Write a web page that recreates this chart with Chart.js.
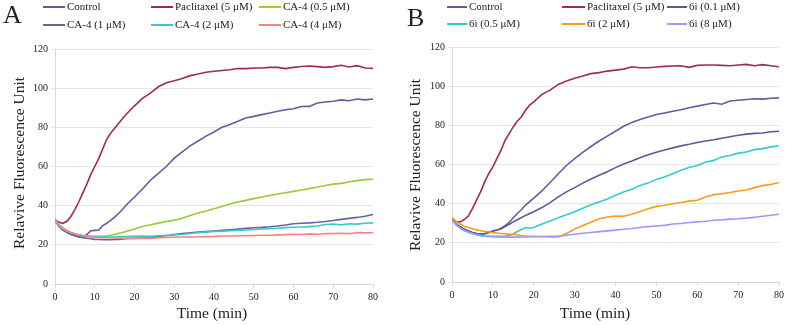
<!DOCTYPE html>
<html>
<head>
  <meta charset="UTF-8">
  <script src="https://cdn.jsdelivr.net/npm/chart.js@4.4.1/dist/chart.umd.min.js"></script>
  <style>
    body { margin: 0; background: #fff; }
    #wrap { position: relative; width: 787px; height: 325px; font-family: "Liberation Serif", "Times New Roman", serif; color: #222; }
    canvas { position: absolute; top: 0; }
    .txt { position: absolute; white-space: nowrap; line-height: 1; }
    .letter { font-size: 26px; }
    .atitle { font-size: 15.5px; }
    .ytitle { transform: translate(-50%, -50%) rotate(-90deg); }
    .xtitle { transform: translate(-50%, -50%); }
    .leg { position: absolute; font-size: 11px; line-height: 1; white-space: nowrap; }
    .leg i { position: absolute; top: -1px; height: 2px; }
    .leg span { position: absolute; top: -6px; }
  </style>
</head>
<body>
<div id="wrap">
  <canvas id="chartA" width="393" height="325" style="left:0"></canvas>
  <canvas id="chartB" width="387" height="325" style="left:400px"></canvas>
  <div class="txt letter" style="left:3px;top:2px">A</div>
  <div class="txt letter" style="left:407px;top:5px">B</div>
  <div class="txt atitle ytitle" style="left:19px;top:163px">Relavive Fluorescence Unit</div>
  <div class="txt atitle xtitle" style="left:212px;top:313px">Time (min)</div>
  <div class="txt atitle ytitle" style="left:415px;top:165px">Relavive Fluorescence Unit</div>
  <div class="txt atitle xtitle" style="left:595px;top:313px">Time (min)</div>
  <div id="legA"></div>
  <div id="legB"></div>
</div>
<script>
// time points (min)
const times = [0,1,2,3,4,5,6,7,8,9,10,11,12,13,14,15,16,17,18,19,20,22,24,26,28,30,32,34,36,38,40,42,44,46,48,50,52,54,56,58,60,62,64,66,68,70,72,74,76,78,80];

// panel A
const namesA = ['Control', 'Paclitaxel (5 μM)', 'CA-4 (0.5 μM)', 'CA-4 (1 μM)', 'CA-4 (2 μM)', 'CA-4 (4 μM)'];
const colorsA = ['#5c5ea3', '#9e2a5e', '#99cc33', '#6264a8', '#33cccc', '#ff8080'];
const controlA = [32.9,29.4,27.7,26.6,25.5,24.7,24,24.3,25.2,27.2,27.4,27.6,29.8,31,32.5,34.2,36,38.2,40.5,42.5,44.4, 48.5,53,56.5,60,64.3,67.5,70.5,73,75.5,77.6, 80,81.4,83.1,84.8,85.6,86.5,87.3,88.2,89,89.5, 90.6,90.7,92.4,92.9,93.3,94,93.6,94.5,94,94.5];
const paclitaxelA = [32.9,31.5,31,32,34.5,38,42,46.5,51,56,60,64,69,73.9,77,79.5,82,84.5,86.8,89,91, 94.8,97.5,100.7,102.8,103.8,104.9,106.4,107.2,108.1,108.6, 109,109.4,110,110,110.3,110.3,110.6,110.6,110,110.6, 111.1,111.3,111,110.6,111,111.7,110.8,111.5,110.3,110.1];
const ca4_05 = [32.9,30.3,28.6,27.3,26.3,25.6,25.1,24.7,24.5,24.4,24.3,24.3,24.4,24.6,24.9,25.3,25.8,26.3,26.9,27.5,28.1, 29.4,30.3,31.1,31.9,32.6,33.6,35,36.3,37.3,38.4, 39.6,40.8,41.9,42.7,43.6,44.4,45.2,46,46.6,47.3, 48,48.7,49.5,50.3,51,51.4,52.1,52.8,53.3,53.5];
const ca4_1 = [32.5,29.5,27.5,26.3,25.3,24.6,24,23.7,23.4,23.1,22.8,22.7,22.6,22.6,22.6,22.7,22.8,23,23.1,23.2,23.3, 23.5,23.7,24.2,24.8,25.3,25.7,26.1,26.5,26.8,27.1, 27.4,27.7,28,28.4,28.7,28.9,29.2,29.6,30.1,30.8, 31,31.2,31.5,31.9,32.4,33,33.5,34,34.6,35.5];
const ca4_2 = [32,29.8,28.2,27,26.2,25.5,25,24.7,24.5,24.3,24.2,24.1,24.1,24,24,24,24.1,24.1,24.2,24.3,24.4, 24.5,24.4,24.6,24.8,25,25.3,25.8,26.2,26.5,26.8, 27,27.2,27.4,27.6,27.8,28.1,28.3,28.5,28.8,29, 29.1,29.3,29.6,30.4,30.6,30.2,30.8,30.6,31,31.2];
const ca4_4 = [32.5,30,28.5,27.2,26.3,25.6,25,24.6,24.3,24.1,23.9,23.8,23.7,23.6,23.6,23.5,23.5,23.4,23.4,23.4,23.3, 23.4,23.3,23.6,23.8,23.9,24,24,24.1,24.2,24.3, 24.5,24.5,24.6,24.7,24.8,24.9,24.9,25.1,25.2,25.4, 25.3,25.6,25.4,25.7,25.8,25.9,25.7,26.3,26.1,26.2];

// panel B
const namesB = ['Control', 'Paclitaxel (5 μM)', '6i (0.1 μM)', '6i (0.5 μM)', '6i (2 μM)', '6i (8 μM)'];
const colorsB = ['#5c5ea3', '#9e2a5e', '#5a5a96', '#33cccc', '#ff9a1a', '#9999ff'];
const controlB = [32,29.5,28,27,26,25.3,24.7,24.4,24.6,25.2,26,26.5,27.5,28.8,30.5,32.8,35,37,39.3,41,42.8, 46.5,50.8,55.3,59.5,63,66.2,69.2,72,74.5,77, 79.5,81.5,83,84.3,85.5,86.3,87.2,88,89,89.8, 90.6,91.4,90.8,92.4,92.8,93.2,93.6,93.4,93.8,94];
const paclitaxelB = [32.4,30.8,30.7,31.9,33.7,37.5,41.8,46,51.1,55.4,58.8,63.1,67.3,72.4,75.8,79.3,82.2,84.4,87.8,90.3,92, 95.8,98,100.9,102.6,104,105.2,106.4,106.9,107.7,108.2, 108.7,109.9,109.4,109.4,109.8,110.1,110.3,110.4,109.6,110.6, 110.8,110.8,110.6,110.4,110.8,111.1,110.4,111,110.4,109.9];
const i6_01 = [32,29.8,28.2,27,26,25.3,24.8,24.6,24.8,25.4,26,26.5,27.2,28.3,29.5,30.7,31.8,32.9,34,35,35.9, 38,40.5,43.5,46,48.2,50.5,52.6,54.5,56.3,58.4, 60.3,61.8,63.5,65,66.3,67.4,68.5,69.5,70.3,71.2, 72,72.6,73.4,74.2,74.9,75.5,75.9,76.1,76.7,77];
const i6_05 = [32.3,29.5,27.5,26.3,25.5,24.8,24.2,23.8,23.6,23.5,23.4,23.4,23.4,23.5,23.8,24.5,25.8,26.8,27.8,27.6,27.8, 29.6,31.2,32.8,34.3,35.9,37.7,39.4,40.9,42.4,44.3, 45.9,47.3,49.3,50.5,52.4,53.6,55.3,57.1,58.5,59.5, 61.1,62.1,63.8,64.6,65.8,66.4,67.6,68.1,69,69.6];
const i6_2 = [33,31,29.6,28.5,27.8,27.2,26.6,26.2,25.8,25.5,25.2,25,24.8,24.6,24.3,24.4,24,23.7,23.5,23.4,23.3, 23.2,23,23,24.8,27,28.8,30.5,32.3,33.2,33.7, 33.6,34.6,36,37.4,38.6,39.2,40,40.6,41.3,41.7, 43.4,44.6,45.1,45.7,46.5,47,48.2,49.2,49.8,50.8];
const i6_8 = [31.5,29,27.5,26.3,25.4,24.7,24.1,23.7,23.4,23.2,23.1,23,22.9,22.9,22.9,22.9,22.9,23,23,23.1,23.1, 23.2,23.3,23.4,23.9,24.4,24.9,25.3,25.7,26.1,26.5, 26.9,27.3,27.8,28.3,28.6,28.9,29.6,29.9,30.4,30.7, 31,31.5,31.7,32.1,32.3,32.6,33.1,33.6,34.1,34.6];

const seriesA = [controlA, paclitaxelA, ca4_05, ca4_1, ca4_2, ca4_4];
const seriesB = [controlB, paclitaxelB, i6_01, i6_05, i6_2, i6_8];

function pts(vals) {
  return times.map((t, i) => ({ x: t, y: vals[i] }));
}

function makeChart(id, names, colors, series, pad, yW, xH) {
  const tickFont = { family: 'Liberation Serif', size: 10 };
  new Chart(document.getElementById(id), {
    type: 'line',
    data: {
      datasets: series.map((s, i) => ({
        label: names[i],
        data: pts(s),
        borderColor: colors[i],
        borderWidth: 1.6,
        pointRadius: 0,
        tension: 0,
        fill: false
      })).reverse()
    },
    options: {
      responsive: false,
      animation: false,
      devicePixelRatio: 1,
      layout: { padding: pad },
      plugins: { legend: { display: false }, tooltip: { enabled: false } },
      scales: {
        x: {
          type: 'linear', min: 0, max: 80,
          ticks: { stepSize: 10, font: tickFont, color: '#222', padding: 3, maxRotation: 0 },
          grid: { drawOnChartArea: false, tickLength: 4, color: '#d9d9d9' },
          border: { color: '#d9d9d9' },
          afterFit: s => { s.height = xH; }
        },
        y: {
          min: 0, max: 120,
          ticks: { stepSize: 20, font: tickFont, color: '#222', padding: 3 },
          grid: { tickLength: 4, color: '#e6e6e6' },
          border: { color: '#d9d9d9' },
          afterFit: s => { s.width = yW; }
        }
      }
    }
  });
}

makeChart('chartA', namesA, colorsA, seriesA, { left: 0, top: 49, right: 20, bottom: 1 }, 55, 40);
makeChart('chartB', namesB, colorsB, seriesB, { left: 0, top: 47, right: 7, bottom: 0 }, 52, 43);

// legends
function legend(id, names, colors, cols, rows, lineW) {
  const el = document.getElementById(id);
  names.forEach((n, i) => {
    const c = cols[i % 3], y = rows[Math.floor(i / 3)];
    const d = document.createElement('div');
    d.className = 'leg';
    d.style.left = c + 'px';
    d.style.top = y + 'px';
    d.innerHTML = '<i style="left:0;width:' + lineW[i % 3] + 'px;background:' + colors[i] + '"></i>' +
      '<span style="left:' + (lineW[i % 3] + 2) + 'px">' + n + '</span>';
    el.appendChild(d);
  });
}
legend('legA', namesA, colorsA, [43, 151, 259], [7, 25], [22, 22, 22]);
legend('legB', namesB, colorsB, [447, 562, 667], [7, 24], [20, 23, 20]);
</script>
</body>
</html>
